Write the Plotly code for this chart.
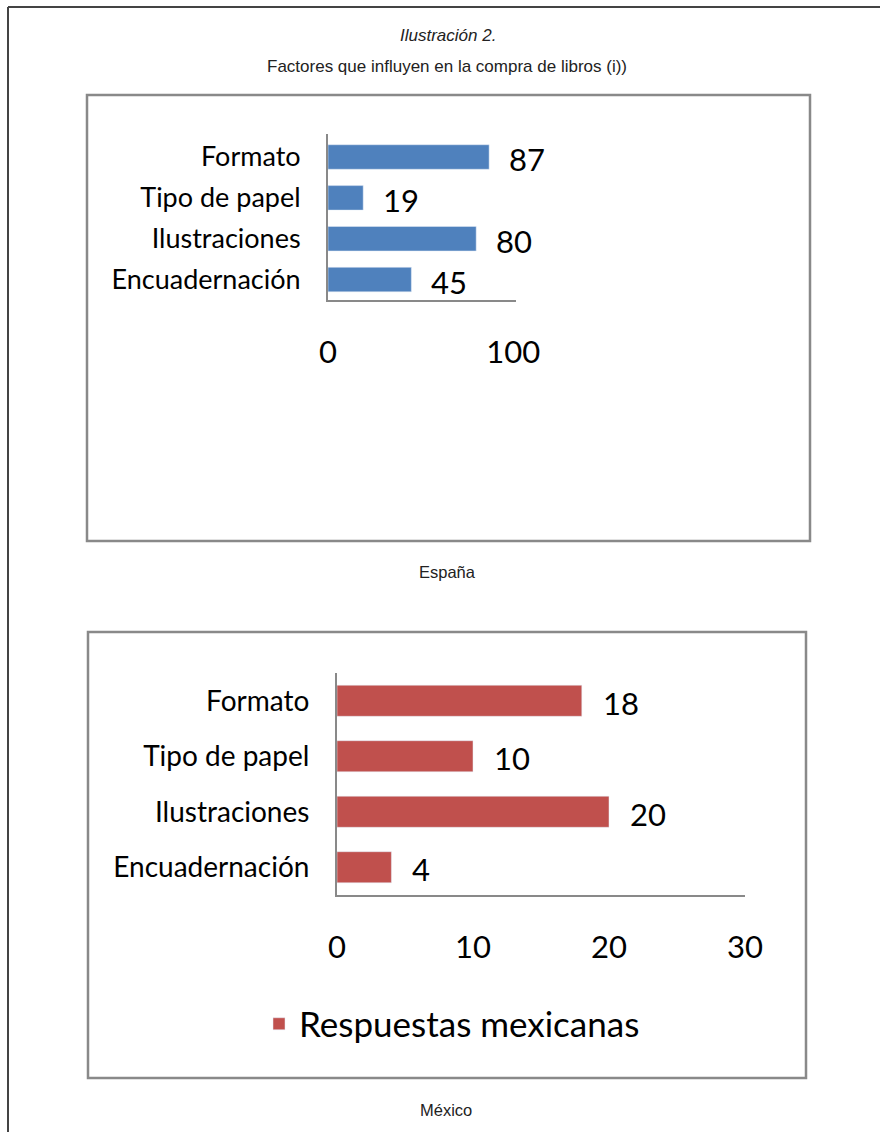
import plotly.graph_objects as go

W, H = 880, 1132

# Datos de las dos encuestas
categorias = ["Formato", "Tipo de papel", "Ilustraciones", "Encuadernación"]
respuestas_espana = [87, 19, 80, 45]
respuestas_mexico = [18, 10, 20, 4]
ticks_espana = [0, 100]
ticks_mexico = [0, 10, 20, 30]
serie_mexico = "Respuestas mexicanas"

AZUL = "#4F81BD"
ROJO = "#C0504D"
GRIS = "#898989"
FUENTE = "Lato"
FUENTE_TITULO = "Liberation Sans, Arial"


def px(x):
    return x / W


def py(y):
    return 1 - y / H


fig = go.Figure()

fig.add_trace(go.Bar(
    orientation="h", x=respuestas_espana, y=categorias,
    xaxis="x", yaxis="y", marker_color=AZUL, width=0.6,
    showlegend=False, hoverinfo="x+y",
))
fig.add_trace(go.Bar(
    orientation="h", x=respuestas_mexico, y=categorias,
    xaxis="x2", yaxis="y2", marker_color=ROJO, width=0.56,
    name=serie_mexico, showlegend=True, hoverinfo="x+y",
))

eje_comun = dict(showgrid=False, zeroline=False, showline=True,
                 linecolor=GRIS, linewidth=2, ticks="", fixedrange=True,
                 automargin=False)

fig.update_layout(
    width=W, height=H,
    margin=dict(l=0, r=0, t=0, b=0, pad=0, autoexpand=False),
    paper_bgcolor="white", plot_bgcolor="white",
    font=dict(family=FUENTE, color="black"),
    xaxis=dict(eje_comun, domain=[px(328), px(516)], range=[0, 101.5],
               anchor="y", tickvals=ticks_espana,
               ticktext=[str(t) for t in ticks_espana],
               tickfont=dict(size=31), ticklabelstandoff=24),
    yaxis=dict(eje_comun, domain=[py(300), py(134)], anchor="x",
               type="category", categoryorder="array", categoryarray=categorias,
               autorange="reversed", tickfont=dict(size=27),
               ticklabelstandoff=20),
    xaxis2=dict(eje_comun, domain=[px(337), px(745)], range=[0, 30],
                anchor="y2", tickvals=ticks_mexico,
                ticktext=[str(t) for t in ticks_mexico],
                tickfont=dict(size=31), ticklabelstandoff=24),
    yaxis2=dict(eje_comun, domain=[py(895), py(673)], anchor="x2",
                type="category", categoryorder="array", categoryarray=categorias,
                autorange="reversed", tickfont=dict(size=28),
                ticklabelstandoff=20),
    legend=dict(orientation="h", x=px(259), xanchor="left",
                y=py(1024), yanchor="middle", font=dict(size=35),
                bgcolor="rgba(0,0,0,0)"),
)

anotaciones = []
# Etiquetas de valor a la derecha de cada barra
for cat, v in zip(categorias, respuestas_espana):
    anotaciones.append(dict(x=v, y=cat, xref="x", yref="y", text=str(v),
                            showarrow=False, xanchor="left", xshift=18,
                            yshift=-2, font=dict(size=31)))
for cat, v in zip(categorias, respuestas_mexico):
    anotaciones.append(dict(x=v, y=cat, xref="x2", yref="y2", text=str(v),
                            showarrow=False, xanchor="left", xshift=19,
                            yshift=-2, font=dict(size=31)))

# Encabezado y pies de cada gráfico
textos = [
    ("<i>Ilustración 2.</i>", 448, 35, 17),
    ("Factores que influyen en la compra de libros (i))", 447, 67, 17),
    ("España", 447, 572, 16.5),
    ("México", 446, 1110, 16.5),
]
for t, x, y, s in textos:
    anotaciones.append(dict(x=px(x), y=py(y), xref="paper", yref="paper",
                            text=t, showarrow=False, xanchor="center",
                            yanchor="middle",
                            font=dict(family=FUENTE_TITULO, size=s,
                                      color="#222222")))
fig.update_layout(annotations=anotaciones)

# Marcos de los gráficos y borde de la página
formas = [
    dict(type="rect", x0=px(87), x1=px(810), y0=py(541), y1=py(95),
         line=dict(color=GRIS, width=2.5)),
    dict(type="rect", x0=px(88), x1=px(806), y0=py(1078), y1=py(632),
         line=dict(color=GRIS, width=2.5)),
    dict(type="line", x0=px(8), x1=1, y0=py(7), y1=py(7),
         line=dict(color="#444444", width=2)),
    dict(type="line", x0=px(8), x1=px(8), y0=py(7), y1=0,
         line=dict(color="#444444", width=2)),
]
for f in formas:
    f.update(xref="paper", yref="paper", layer="below")
fig.update_layout(shapes=formas)

fig.write_html("out.html")
